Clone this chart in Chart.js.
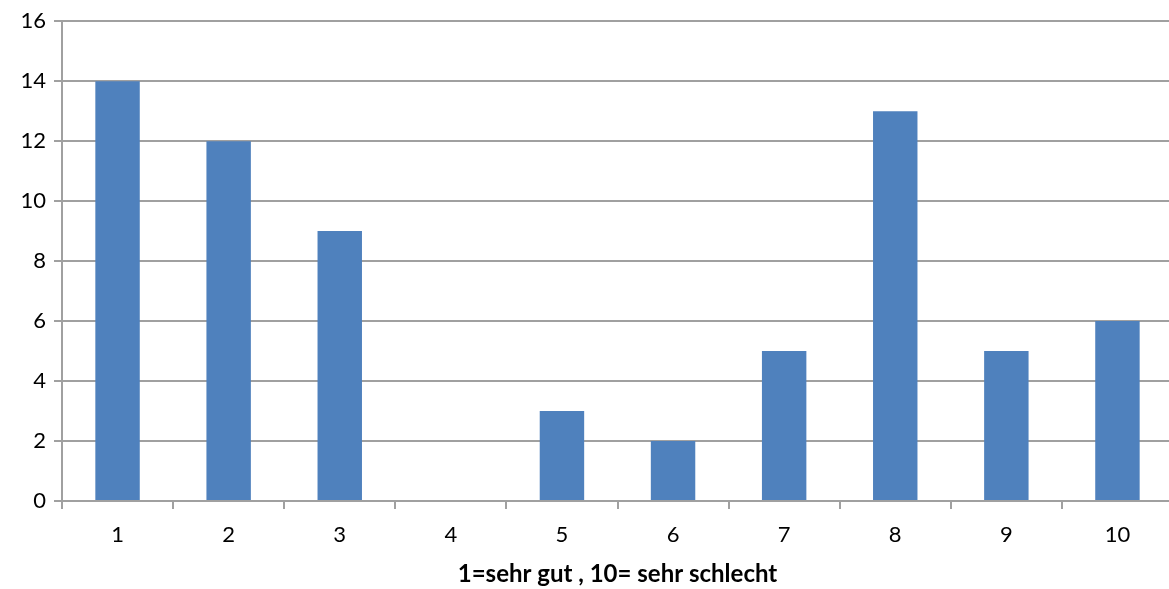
<!DOCTYPE html>
<html>
<head>
<meta charset="utf-8">
<script src="https://cdn.jsdelivr.net/npm/chart.js@4"></script>
<style>
  html, body { margin: 0; padding: 0; background: #fff; overflow: hidden; }
  #wrap { width: 1173px; height: 589px; position: relative; }
</style>
</head>
<body>
<div id="wrap"><canvas id="chartCanvas"></canvas></div>
<script>
// Ratings 1..10 and how often each was given
var categories = ['1', '2', '3', '4', '5', '6', '7', '8', '9', '10'];
var counts = [14, 12, 9, 0, 3, 2, 5, 13, 5, 6];
var yTicks = [0, 2, 4, 6, 8, 10, 12, 14, 16];
var xTitle = '1=sehr gut , 10= sehr schlecht';

var gridColor = '#a0a0a0';
var barColor = '#4f81bd';
var fontFamily = 'Lato, "Open Sans", sans-serif';

var ctx = document.getElementById('chartCanvas').getContext('2d');
var chart = new Chart(ctx, {
  type: 'bar',
  data: {
    labels: categories,
    datasets: [{
      data: counts,
      backgroundColor: barColor,
      borderWidth: 0,
      categoryPercentage: 1,
      barPercentage: 0.4,
    }]
  },
  options: {
    responsive: true,
    maintainAspectRatio: false,
    animation: false,
    layout: { padding: { top: 21, right: 0, left: 0, bottom: 0 } },
    plugins: {
      legend: { display: false },
      tooltip: { enabled: false },
    },
    scales: {
      x: {
        offset: true,
        grid: {
          offset: true,
          drawOnChartArea: false,
          drawTicks: true,
          tickLength: 8,
          color: gridColor,
          lineWidth: 2,
        },
        border: { color: gridColor, width: 2 },
        ticks: {
          color: '#000',
          font: { family: fontFamily, size: 22 },
          padding: 13,
        },
        title: {
          display: true,
          text: xTitle,
          color: '#000',
          font: { family: fontFamily, size: 24, weight: 'bold' },
          padding: { top: 6, bottom: 0 },
        },
        afterFit: function(scale) { scale.height = 88; },
      },
      y: {
        min: 0,
        max: 16,
        afterBuildTicks: function(scale) {
          scale.ticks = yTicks.map(function(v) { return {value: v}; });
        },
        grid: {
          color: gridColor,
          lineWidth: 2,
          tickLength: 8,
        },
        border: { color: gridColor, width: 2 },
        ticks: {
          color: '#000',
          font: { family: fontFamily, size: 22 },
          padding: 8,
        },
        afterFit: function(scale) { scale.width = 62; },
      }
    }
  }
});
</script>
</body>
</html>
